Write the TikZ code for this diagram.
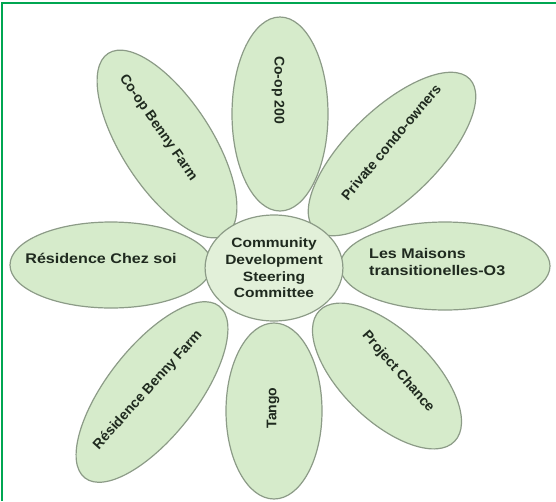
\documentclass[tikz,border=0pt]{standalone}
\usepackage{fontspec}
\setmainfont{Liberation Sans}
\usepackage{graphicx}
\usepackage[svgnames]{xcolor}
\usepackage{tikz}
\usetikzlibrary{shapes.geometric, positioning}
\definecolor{petalfill}{HTML}{D6EBCB}
\definecolor{hubfill}{HTML}{E2F0D9}
\definecolor{petalline}{HTML}{8C9B87}
\definecolor{inktext}{HTML}{1F2A1F}
\definecolor{framegreen}{HTML}{00A651}
\newcommand{\wide}[1]{\scalebox{1.15}[1]{#1}}

\begin{document}
\begin{tikzpicture}[x=1pt, y=-1pt,
        petal/.style={ellipse, draw=petalline, line width=1.2pt, fill=petalfill, inner sep=0pt},
        hub/.style={ellipse, draw=petalline, line width=1.2pt, fill=hubfill, inner sep=0pt,
            minimum width=122pt, minimum height=106pt},
        lbl/.style={font=\fontsize{14}{17}\selectfont\bfseries, text=inktext, inner sep=0pt, align=center}]
        \useasboundingbox (0,0) rectangle (556,501);
        \draw[framegreen, line width=1.5pt] (2,501) -- (2,3) -- (556,3);
        % petals
        \node[petal, rotate=-57, minimum width=216pt, minimum height=90pt] (coopbenny) at (167,144) {};
        \node[petal, rotate=90, minimum width=194pt, minimum height=96pt] (coop) at (280,114) {};
        \node[petal, rotate=44, minimum width=216pt, minimum height=90pt] (condo) at (392,154) {};
        \node[petal, minimum width=210pt, minimum height=88pt] (maisons) at (445,266) {};
        \node[petal, rotate=-44, minimum width=188pt, minimum height=90pt] (chance) at (387,376) {};
        \node[petal, rotate=90, minimum width=176pt, minimum height=96pt] (tango) at (274,411) {};
        \node[petal, rotate=52, minimum width=218pt, minimum height=90pt] (resbenny) at (152,392) {};
        \node[petal, minimum width=202pt, minimum height=86pt] (chezsoi) at (111,265) {};
        \node[hub, font=\fontsize{13.5}{16.7}\selectfont\bfseries, text=inktext, align=center] (csc) at (274,268)
            {\wide{Community}\\\wide{Development}\\\wide{Steering}\\\wide{Committee}};
        % labels
        \node[lbl, rotate=-55] (coopbenny-l) at (158,128) {Co-op Benny Farm};
        \node[lbl, rotate=-90] (coop-l) at (278,90) {Co-op 200};
        \node[lbl, rotate=50] (condo-l) at (391,142) {Private condo-owners};
        \node[lbl, align=left, anchor=west] (maisons-l) at (369,262) {\wide{Les Maisons}\\\wide{transitionelles-O3}};
        \node[lbl, rotate=-49] (chance-l) at (398,372) {Project Chance};
        \node[lbl, rotate=90] (tango-l) at (273,408) {Tango};
        \node[lbl, rotate=48] (resbenny-l) at (148,390) {Résidence Benny Farm};
        \node[lbl] (chezsoi-l) at (101,258) {\wide{Résidence Chez soi}};
\end{tikzpicture}
\end{document}
